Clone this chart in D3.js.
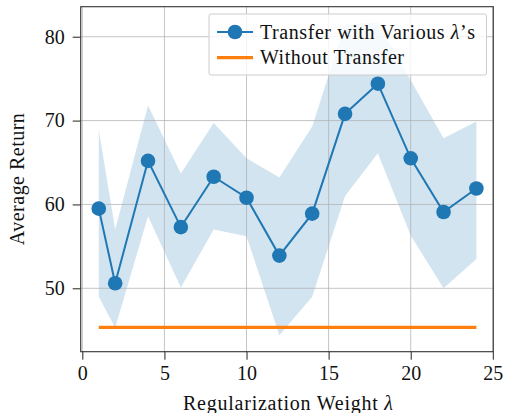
<!DOCTYPE html>
<html><head><meta charset="utf-8">
<script src="https://cdn.jsdelivr.net/npm/d3@7"></script>
<style>
html,body{margin:0;padding:0;background:#fff;}
svg{display:block;}
text{font-family:"Liberation Serif","Times New Roman",Times,"DejaVu Serif",serif;fill:#111;}
</style></head>
<body>
<svg id="c" width="505" height="413"></svg>
<script>
const lambdas = [1, 2, 4, 6, 8, 10, 12, 14, 16, 18, 20, 22, 24];
const meanReturn = [59.5, 50.6, 65.2, 57.3, 63.3, 60.8, 53.9, 58.9, 70.8, 74.4, 65.5, 59.1, 61.9];
const upperReturn = [68.9, 57.0, 71.8, 63.7, 69.7, 65.5, 63.2, 69.3, 81.5, 81.7, 74.8, 67.9, 69.9];
const lowerReturn = [49.0, 45.3, 58.6, 50.1, 57.0, 56.2, 44.4, 49.0, 61.0, 66.1, 56.3, 50.0, 53.5];
const baselineReturn = 45.35;
const xTicks = [0, 5, 10, 15, 20, 25];
const yTicks = [50, 60, 70, 80];
const seriesLabels = ["Transfer with Various ", "Without Transfer"];

const FONT = '"Liberation Serif","Times New Roman",Times,"DejaVu Serif",serif';
const FS = 20;
const blue = "#1f77b4", orange = "#ff7f0e";
const svg = d3.select("#c");
const L = 80.7, R = 493.3, T = 6.7, B = 351.7;
const x = d3.scaleLinear().domain([-0.1, 25.03]).range([L, R]);
const y = d3.scaleLinear().domain([42.44, 83.58]).range([B, T]);

const data = lambdas.map((l, i) => ({l, m: meanReturn[i], u: upperReturn[i], lo: lowerReturn[i]}));

svg.append("path").datum(data)
  .attr("d", d3.area().x(d => x(d.l)).y0(d => y(d.lo)).y1(d => y(d.u)))
  .attr("fill", blue).attr("fill-opacity", 0.2);

const grid = svg.append("g");
grid.selectAll(".gx").data(xTicks).join("line")
  .attr("x1", d => x(d)).attr("x2", d => x(d)).attr("y1", T).attr("y2", B)
  .attr("stroke", "#b0b0b0").attr("stroke-opacity", 0.75).attr("stroke-width", 1);
grid.selectAll(".gy").data(yTicks).join("line")
  .attr("y1", d => y(d)).attr("y2", d => y(d)).attr("x1", L).attr("x2", R)
  .attr("stroke", "#b0b0b0").attr("stroke-opacity", 0.75).attr("stroke-width", 1);

svg.append("line")
  .attr("x1", x(lambdas[0])).attr("x2", x(lambdas[lambdas.length - 1]))
  .attr("y1", y(baselineReturn)).attr("y2", y(baselineReturn))
  .attr("stroke", orange).attr("stroke-width", 3.2);

svg.append("path").datum(data)
  .attr("d", d3.line().x(d => x(d.l)).y(d => y(d.m)))
  .attr("fill", "none").attr("stroke", blue).attr("stroke-width", 2);
svg.selectAll(".pt").data(data).join("circle")
  .attr("cx", d => x(d.l)).attr("cy", d => y(d.m)).attr("r", 7.3)
  .attr("fill", blue);

const xAxis = d3.axisBottom(x).tickValues(xTicks).tickSize(8).tickPadding(6).tickFormat(d3.format("d"));
const yAxis = d3.axisLeft(y).tickValues(yTicks).tickSize(8).tickPadding(8).tickFormat(d3.format("d"));
const gx = svg.append("g").attr("transform", `translate(0,${B})`).call(xAxis);
const gy = svg.append("g").attr("transform", `translate(${L},0)`).call(yAxis);
[gx, gy].forEach(g => {
  g.attr("font-family", null).attr("font-size", null);
  g.select(".domain").remove();
  g.selectAll(".tick line").attr("stroke", "#222").attr("stroke-width", 1);
  g.selectAll(".tick text").attr("font-family", FONT).attr("font-size", FS).attr("fill", "#111");
});
gx.selectAll(".tick text").attr("dy", "0.71em");

svg.append("rect").attr("x", L).attr("y", T).attr("width", R - L).attr("height", B - T)
  .attr("fill", "none").attr("stroke", "#333").attr("stroke-width", 1.1);

svg.append("text").attr("x", 183).attr("y", 409.5)
  .attr("font-family", FONT).attr("font-size", FS)
  .attr("textLength", 210).attr("lengthAdjust", "spacing")
  .call(t => { t.append("tspan").text("Regularization Weight "); t.append("tspan").attr("font-style", "italic").text("λ"); });
svg.append("text").attr("transform", `translate(24,${(T + B) / 2}) rotate(-90)`).attr("text-anchor", "middle")
  .attr("font-family", FONT).attr("font-size", FS)
  .attr("textLength", 132).attr("lengthAdjust", "spacing").text("Average Return");

const lg = svg.append("g");
lg.append("rect").attr("x", 209).attr("y", 14).attr("width", 277.5).attr("height", 61).attr("rx", 2)
  .attr("fill", "#fff").attr("fill-opacity", 0.8).attr("stroke", "#cccccc").attr("stroke-width", 1);
lg.append("line").attr("x1", 217).attr("x2", 253).attr("y1", 32).attr("y2", 32).attr("stroke", blue).attr("stroke-width", 2);
lg.append("circle").attr("cx", 235).attr("cy", 32).attr("r", 7.3).attr("fill", blue);
lg.append("line").attr("x1", 217).attr("x2", 253).attr("y1", 57.7).attr("y2", 57.7).attr("stroke", orange).attr("stroke-width", 3.2);
lg.append("text").attr("x", 260).attr("y", 38.5).attr("font-family", FONT).attr("font-size", FS)
  .attr("textLength", 215).attr("lengthAdjust", "spacing")
  .call(t => { t.append("tspan").text(seriesLabels[0]); t.append("tspan").attr("font-style", "italic").text("λ"); t.append("tspan").text("’s"); });
lg.append("text").attr("x", 260).attr("y", 64.3).attr("font-family", FONT).attr("font-size", FS)
  .attr("textLength", 144).attr("lengthAdjust", "spacing").text(seriesLabels[1]);
</script>
</body></html>
